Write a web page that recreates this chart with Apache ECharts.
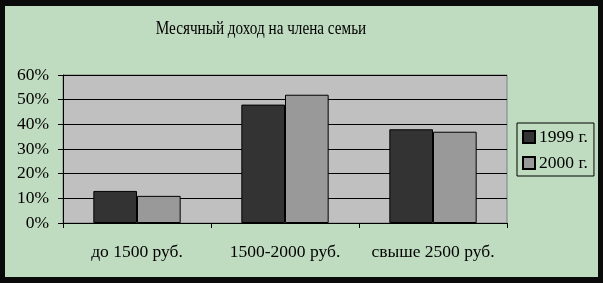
<!DOCTYPE html>
<html><head><meta charset="utf-8">
<script src="https://cdn.jsdelivr.net/npm/echarts@6/dist/echarts.min.js"></script>
<style>html,body{margin:0;padding:0;background:#0a0a0a;}#c{position:absolute;left:5px;top:6px;width:593px;height:271px;}</style>
</head><body><div id="c"></div>
<script>
const title = 'Месячный доход на члена семьи';
const categories = ['до 1500 руб.', '1500-2000 руб.', 'свыше 2500 руб.'];
const seriesNames = ['1999 г.', '2000 г.'];
const values1999 = [13, 48, 38];
const values2000 = [11, 52, 37];
const yTicks = [0, 10, 20, 30, 40, 50, 60];

const font = '"Liberation Serif", "Times New Roman", serif';
const chart = echarts.init(document.getElementById('c'), null, {renderer: 'canvas'});
chart.setOption({
  backgroundColor: '#c0dcc0',
  animation: false,
  graphic: [{
    type: 'text', x: 256, y: 23, scaleX: 0.8, scaleY: 1,
    style: {text: title, fontFamily: font, fontSize: 19, fill: '#000', textAlign: 'center', textVerticalAlign: 'middle'}
  }],
  legend: {
    orient: 'vertical', left: 512, top: 117, itemWidth: 12, itemHeight: 12, itemGap: 8,
    padding: [5, 6, 4, 5], borderColor: '#000', borderWidth: 1,
    textStyle: {fontFamily: font, fontSize: 17.5, color: '#000', padding: [0, 0, 0, -1]},
    data: seriesNames.map(n => ({name: n, icon: 'rect'}))
  },
  grid: {left: 58, top: 69, width: 444, height: 148, show: true, backgroundColor: '#c0c0c0', borderColor: '#808080', borderWidth: 1},
  xAxis: {
    type: 'category', data: categories,
    axisLine: {lineStyle: {color: '#000', width: 1}},
    axisTick: {show: true, length: 5, lineStyle: {color: '#000'}},
    axisLabel: {fontFamily: font, fontSize: 17.5, color: '#000', margin: 20, interval: 0, hideOverlap: false}
  },
  yAxis: {
    type: 'value', min: yTicks[0], max: yTicks[yTicks.length - 1], interval: 10,
    axisLine: {show: true, lineStyle: {color: '#000', width: 1}},
    axisTick: {show: true, length: 5, lineStyle: {color: '#000'}},
    axisLabel: {fontFamily: font, fontSize: 17.5, color: '#000', margin: 14, formatter: v => v + '%'},
    splitLine: {lineStyle: {color: '#000', width: 1}}
  },
  series: [
    {name: seriesNames[0], type: 'bar', data: values1999, barWidth: '29.5%', barGap: '0%',
      itemStyle: {color: '#333333', borderColor: '#000', borderWidth: 1}},
    {name: seriesNames[1], type: 'bar', data: values2000, barWidth: '29.5%',
      itemStyle: {color: '#999999', borderColor: '#000', borderWidth: 1}}
  ]
});
</script></body></html>
